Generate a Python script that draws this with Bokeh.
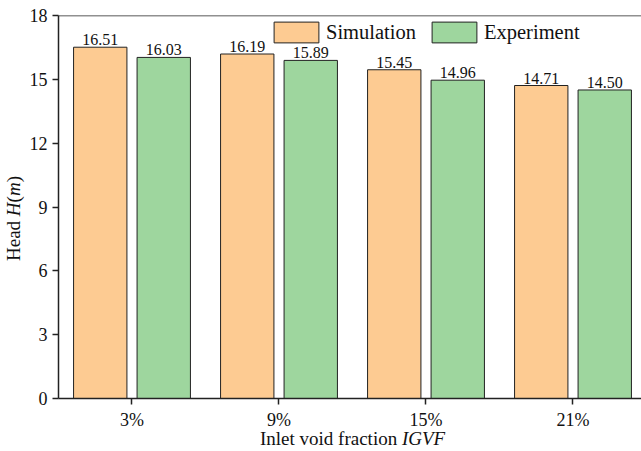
from bokeh.plotting import figure
from bokeh.layouts import column, row
from bokeh.models import (ColumnDataSource, FixedTicker, Legend, LegendItem,
                          Span, Range1d, Div)
from bokeh.core.properties import value
from bokeh.embed import file_html
from bokeh.resources import INLINE

# Data
categories = ["3%", "9%", "15%", "21%"]
simulation = [16.51, 16.19, 15.45, 14.71]
experiment = [16.03, 15.89, 14.96, 14.50]
y_ticks = [0, 3, 6, 9, 12, 15, 18]

SERIF = "Liberation Serif"
ORANGE = "#FDCB92"
GREEN = "#9ED69E"
EDGE = "#222222"

idx = list(range(len(categories)))
offset = 0.216
bar_w = 0.363

# Page geometry: y-title column on the left, x-title strip at the bottom
TOTAL_W, TOTAL_H = 641, 451
YW = 26          # width of the y-title column
PH = 432         # height of the plot canvas
FRAME_LEFT, FRAME_TOP, FRAME_BOTTOM = 58, 15, 399

sim_src = ColumnDataSource(dict(
    x=[i - offset for i in idx], top=simulation,
    label=[f"{v:.2f}" for v in simulation]))
exp_src = ColumnDataSource(dict(
    x=[i + offset for i in idx], top=experiment,
    label=[f"{v:.2f}" for v in experiment]))

p = figure(width=TOTAL_W - YW, height=PH, output_backend="svg",
           toolbar_location=None,
           x_range=Range1d(-0.5, 3.466), y_range=Range1d(0, 18),
           min_border_left=FRAME_LEFT - YW, min_border_right=0,
           min_border_top=FRAME_TOP, min_border_bottom=PH - FRAME_BOTTOM)
p.background_fill_color = "white"
p.border_fill_color = "white"
p.outline_line_color = None
p.grid.visible = False

sim_r = p.vbar(x="x", top="top", width=bar_w, source=sim_src,
               fill_color=ORANGE, line_color=EDGE, line_width=1)
exp_r = p.vbar(x="x", top="top", width=bar_w, source=exp_src,
               fill_color=GREEN, line_color=EDGE, line_width=1)

for src in (sim_src, exp_src):
    p.text(x="x", y="top", text="label", source=src,
           text_font=value(SERIF), text_font_size=value("16px"),
           text_align="center", text_baseline="bottom",
           y_offset=-2, text_color="#111111")

# Axes
for ax in (p.xaxis[0], p.yaxis[0]):
    ax.axis_line_color = EDGE
    ax.axis_line_width = 1.5
    ax.major_tick_line_color = EDGE
    ax.major_tick_line_width = 1.5
    ax.major_tick_in = 0
    ax.major_tick_out = 6
    ax.minor_tick_line_color = None
    ax.major_label_text_font = SERIF
    ax.major_label_text_font_size = "18px"
    ax.major_label_text_color = "#111111"
    ax.major_label_standoff = 5

p.xaxis.ticker = FixedTicker(ticks=idx)
p.xaxis.major_label_overrides = {i: c for i, c in zip(idx, categories)}
p.yaxis.ticker = FixedTicker(ticks=y_ticks)

# Top frame line
p.add_layout(Span(location=18, dimension="width", line_color=EDGE, line_width=1.5))

legend = Legend(items=[LegendItem(label="Simulation", renderers=[sim_r]),
                       LegendItem(label="Experiment", renderers=[exp_r])],
                orientation="horizontal", location=(210, 353),
                glyph_width=56, glyph_height=26, label_standoff=2, spacing=10,
                padding=0, margin=0, border_line_color=None,
                background_fill_alpha=0,
                label_text_font=SERIF, label_text_font_size="20.5px",
                label_text_color="#111111")
p.add_layout(legend)

# Axis titles with italic symbols
font_css = "font-family:'Liberation Serif',serif;font-size:19px;color:#111111;"
y_title = Div(
    text=(f'<div style="box-sizing:border-box;width:{YW}px;height:{PH}px;'
          f'padding-top:4px;display:flex;align-items:center;'
          f'justify-content:center;{font_css}">'
          '<span style="writing-mode:vertical-rl;transform:rotate(180deg);'
          'white-space:nowrap;line-height:19px;">'
          'Head <i>H</i>(<i>m</i>)</span></div>'),
    width=YW, height=PH, margin=0)
x_title = Div(
    text=(f'<div style="padding-left:260px;line-height:14px;'
          f'white-space:nowrap;{font_css}">'
          'Inlet void fraction <i>IGVF</i></div>'),
    width=TOTAL_W, height=TOTAL_H - PH, margin=0)

layout = column(row(y_title, p, spacing=0), x_title, spacing=0)

open("out.html", "w").write(file_html(layout, INLINE))
